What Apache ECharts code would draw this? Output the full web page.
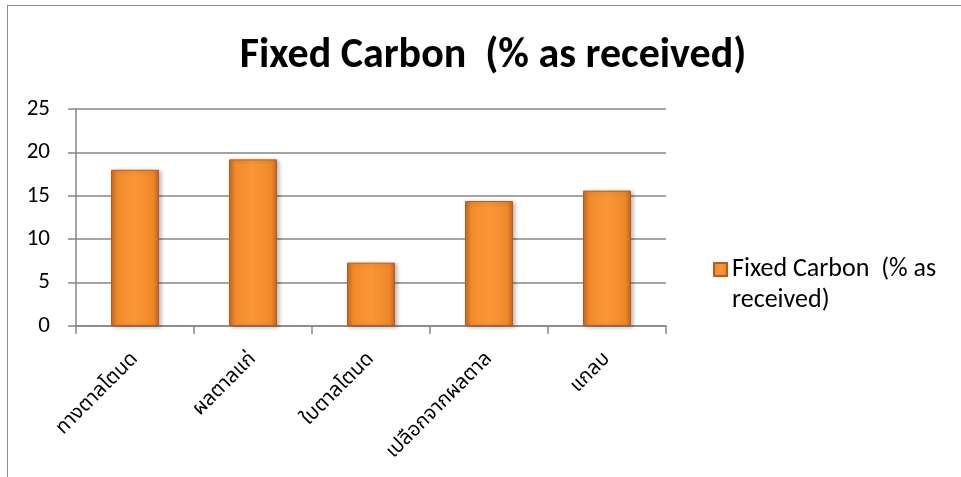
<!DOCTYPE html>
<html>
<head>
<meta charset="utf-8">
<script src="https://cdn.jsdelivr.net/npm/echarts@6/dist/echarts.min.js"></script>
<style>
    html, body { margin: 0; padding: 0; background: #fff; }
    #frame { position: absolute; left: 7px; top: 5px; width: 960px; height: 480px;
             border-left: 1.5px solid #8c8c8c; border-top: 1.5px solid #8c8c8c; }
    #chart { position: absolute; left: 0; top: 0; width: 961px; height: 477px; }
</style>
</head>
<body>
<div id="frame"></div>
<div id="chart"></div>
<script>
// ชนิดชีวมวล
const categories = ['ทางตาลโตนด', 'ผลตาลแก่', 'ใบตาลโตนด', 'เปลือกจากผลตาล', 'แกลบ'];
// Fixed Carbon (% as received)
const fixedCarbon = [18.0, 19.2, 7.3, 14.4, 15.6];
const yTicks = [0, 5, 10, 15, 20, 25];

const seriesName = 'Fixed Carbon  (% as received)';
const baseFont = 'Carlito, "Open Sans", "Noto Sans", "Noto Sans Thai", Tahoma, sans-serif';

let chart = echarts.init(document.getElementById('chart'));

const barColor = new echarts.graphic.LinearGradient(0, 0, 1, 0, [
    { offset: 0, color: '#C9681E' },
    { offset: 0.12, color: '#F28A2C' },
    { offset: 0.5, color: '#FA9636' },
    { offset: 0.88, color: '#F08829' },
    { offset: 1, color: '#C5651C' }
]);

chart.setOption({
    animation: false,
    title: {
        text: 'Fixed Carbon  (% as received)',
        left: 488,
        top: 30,
        textAlign: 'center',
        textStyle: { fontFamily: baseFont, fontSize: 42, fontWeight: 'bold', color: '#000' }
    },
    legend: {
        left: 713,
        top: 223,
        padding: 0,
        orient: 'vertical',
        itemWidth: 13,
        itemHeight: 13,
        icon: 'rect',
        data: [seriesName],
        // empty first line keeps the marker level with the first text line
        formatter: () => '\nFixed Carbon  (% as\nreceived)',
        textStyle: { fontFamily: baseFont, fontSize: 26, color: '#000', lineHeight: 31 }
    },
    grid: { left: 76, right: 295, top: 109, bottom: 151 },
    xAxis: {
        type: 'category',
        data: categories,
        axisLine: { lineStyle: { color: '#868686', width: 1.5 } },
        axisTick: { show: true, length: 8, lineStyle: { color: '#868686', width: 1.5 } },
        axisLabel: { rotate: 45, interval: 0, margin: 30, color: '#000', fontSize: 20,
                     fontFamily: baseFont }
    },
    yAxis: {
        type: 'value',
        min: 0, max: 25, interval: 5,
        axisLine: { show: true, lineStyle: { color: '#868686', width: 1.5 } },
        axisTick: { show: true, length: 8, lineStyle: { color: '#868686', width: 1.5 } },
        splitLine: { lineStyle: { color: '#868686', width: 1.5 } },
        axisLabel: { color: '#000', fontSize: 23, margin: 26, fontFamily: baseFont,
                     formatter: v => yTicks.includes(v) ? String(v) : '' }
    },
    series: [{
        name: seriesName,
        type: 'bar',
        data: fixedCarbon,
        barWidth: 48,
        itemStyle: {
            color: barColor,
            borderColor: '#B35E1A',
            borderWidth: 1,
            shadowColor: 'rgba(0,0,0,0.25)',
            shadowBlur: 4,
            shadowOffsetX: 2,
            shadowOffsetY: 1
        }
    }]
});
</script>
</body>
</html>
